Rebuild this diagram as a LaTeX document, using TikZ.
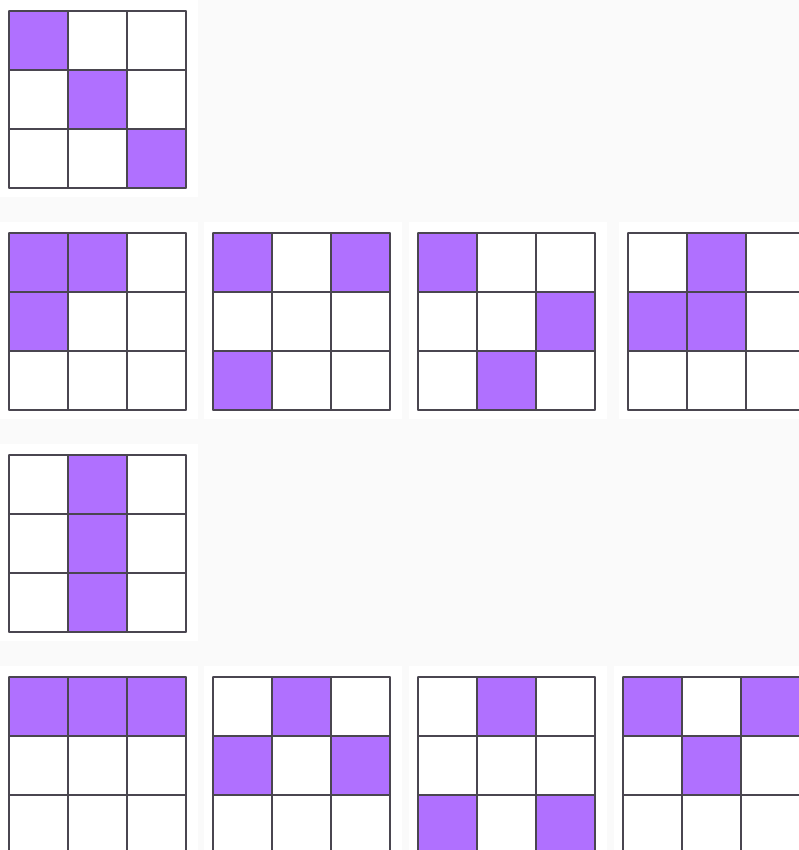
\documentclass[tikz,border=0pt]{standalone}
\usepackage{xcolor}
\definecolor{tilepurple}{HTML}{B070FF}
\definecolor{tileline}{HTML}{4A4650}
\definecolor{pagebg}{HTML}{FAFAFA}

\begin{document}
\begin{tikzpicture}[
    x=1pt, y=-1pt,
    panel/.style={fill=white},
    cell/.style={fill=tilepurple},
    gridline/.style={draw=tileline, line width=1.1pt, line cap=round},
  ]
    \fill[pagebg] (0,0) rectangle (799,850);
    \useasboundingbox (0,0) rectangle (799,850);

    % each board: top-left corner, then its filled cells as row/column
    \foreach \gx/\gy/\cells in {
        9/11/{0/0,1/1,2/2},
        9/233/{0/0,0/1,1/0}, 213/233/{0/0,0/2,2/0}, 418/233/{0/0,1/2,2/1}, 628/233/{0/1,1/0,1/1},
        9/455/{0/1,1/1,2/1},
        9/677/{0/0,0/1,0/2}, 213/677/{0/1,1/0,1/2}, 418/677/{0/1,2/0,2/2}, 623/677/{0/0,0/2,1/1}}
    {
      \fill[panel] (\gx-9,\gy-11) rectangle (\gx+189,\gy+186);
      \foreach \r/\c in \cells
        \fill[cell] (\gx+59*\c,\gy+59*\r) rectangle ++(59,59);
      \foreach \i in {0,...,3} {
        \draw[gridline] (\gx+59*\i,\gy) -- (\gx+59*\i,\gy+177);
        \draw[gridline] (\gx,\gy+59*\i) -- (\gx+177,\gy+59*\i);
      }
    }
  \end{tikzpicture}
\end{document}
